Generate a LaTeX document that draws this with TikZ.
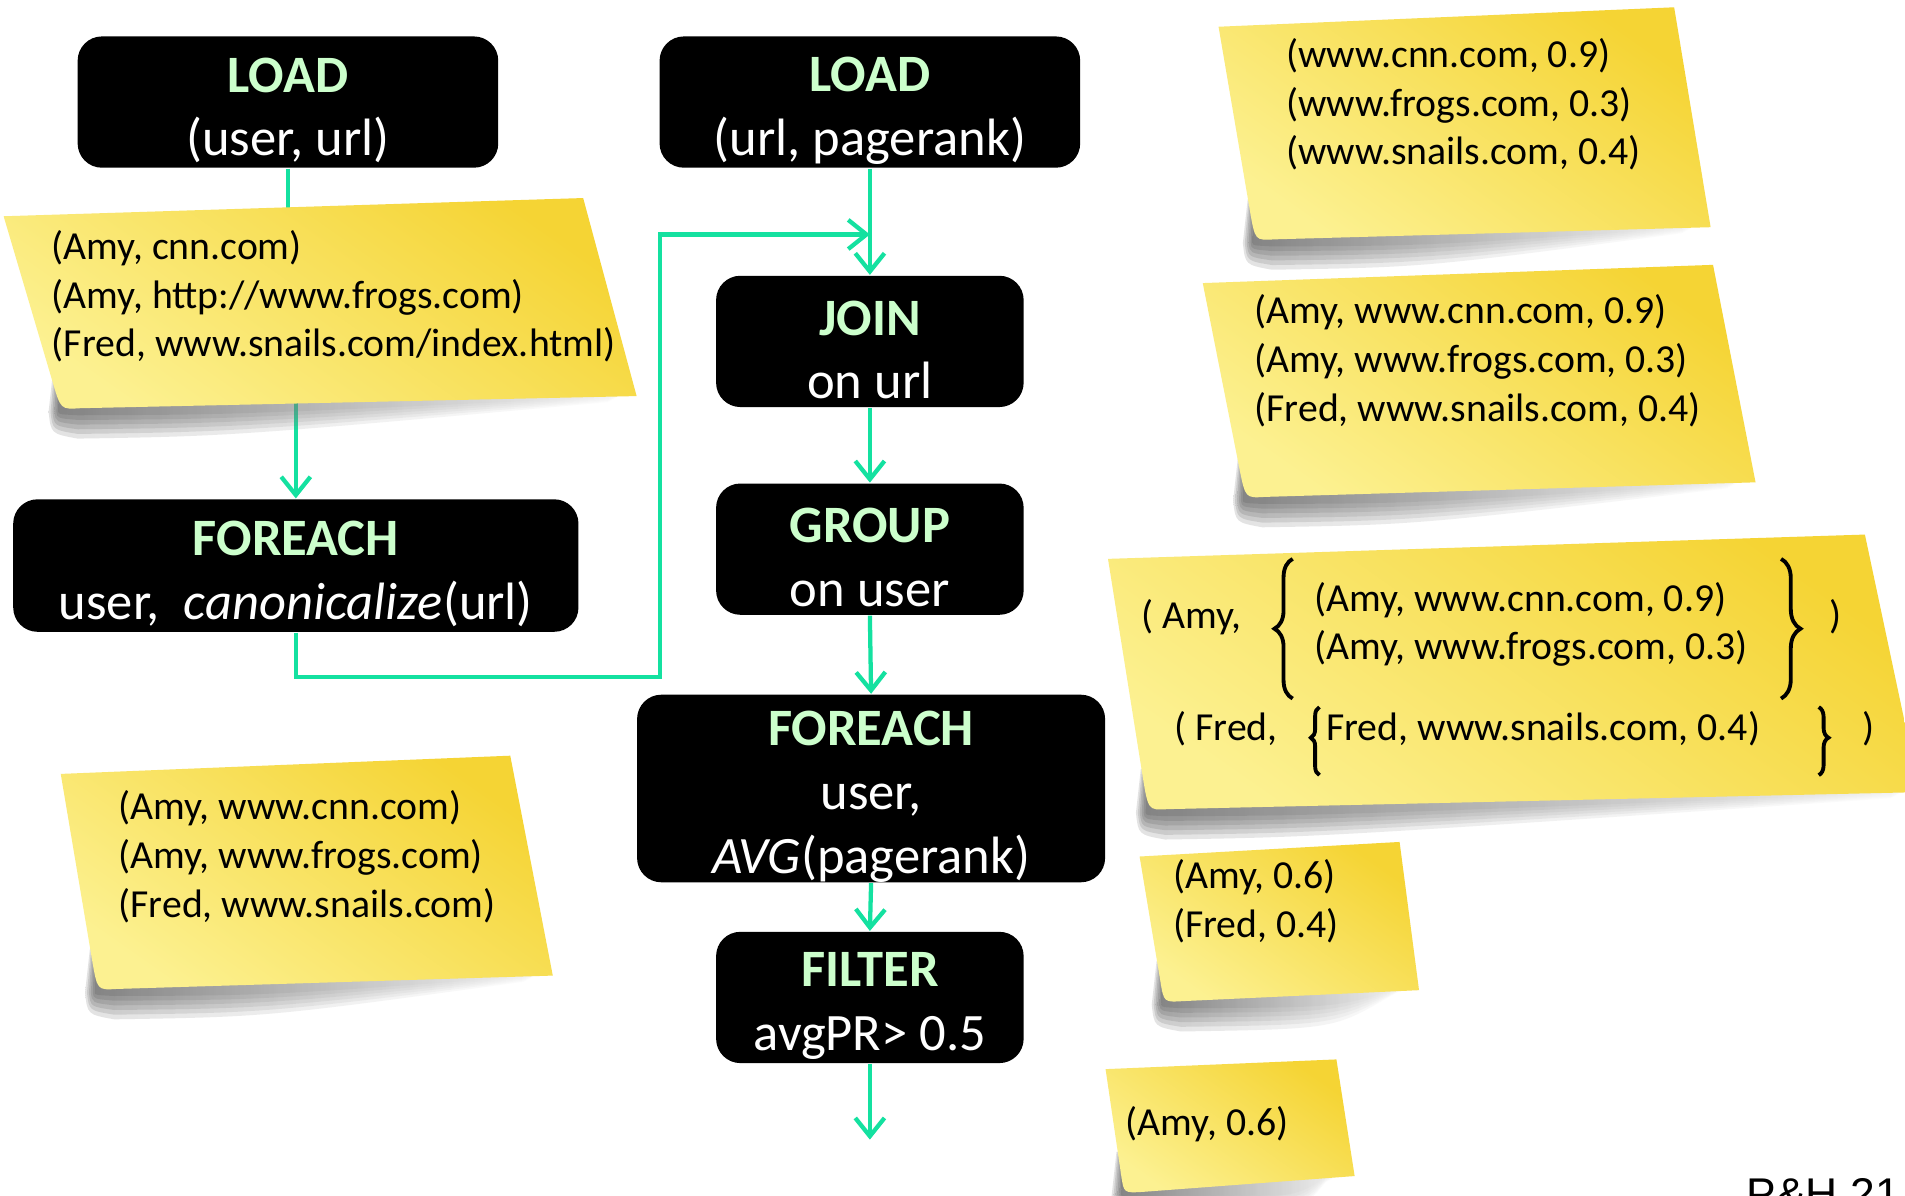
\documentclass[tikz,border=0pt]{standalone}
\usepackage{fontspec}
\setmainfont{Carlito}
\newfontfamily\footfont{Liberation Sans}
\usetikzlibrary{arrows.meta,decorations.pathreplacing,calc}

\definecolor{flow}{RGB}{20,225,160}
\definecolor{titlegreen}{RGB}{204,255,204}
\definecolor{notetop}{RGB}{245,212,52}
\definecolor{notelow}{RGB}{252,241,145}

% first line of an operator box: green bold title, with a strut that lowers the text block
\newcommand\boxtitle[1]{\rule{0pt}{12pt}{\color{titlegreen}\bfseries #1}}

% sticky note: corners top-left, top-right, bottom-right, bottom-left
\newcommand\stickynote[4]{%
  \foreach \k [evaluate=\k as \s using 1-0.16*\k] in {0,...,5}{%
    \shade[left color=black!85, right color=black!5, fill opacity=0.13]
      ($(#4)+(-6*\s,-34)$) -- ($(#3)+(-6,-5)$) -- ($(#3)+(-24,5*\s)$)
      .. controls ($(#4)+(140,22*\s)$) .. ($(#4)+(14,24*\s)$)
      .. controls ($(#4)+(-8*\s,20*\s)$) .. ($(#4)+(-10*\s,2)$) -- cycle;
  }%
  \shade[top color=notetop, bottom color=notelow, shading angle=-35]
    (#1) -- (#2) -- (#3) -- ($(#4)+(16,-1)$) .. controls (#4) .. ($(#4)!0.14!(#1)$) -- cycle;
}

\begin{document}
\begin{tikzpicture}[x=0.01cm,y=-0.01cm,
  opbox/.style={fill=black, rounded corners=0.2cm, text=white, align=center,
    inner sep=0pt, font=\fontsize{12.3}{14.9}\selectfont},
  flowline/.style={draw=flow, line width=1pt,
    -{Straight Barb[length=1.5mm,width=2.4mm,line width=1pt]}},
  notetext/.style={anchor=west, align=left, inner sep=0pt,
    font=\fontsize{9.3}{11.4}\selectfont},
  notebrace/.style={decorate, line width=0.9pt},
]
\useasboundingbox (0,0) rectangle (1568,984);
\clip (0,0) rectangle (1568,984);
\fill[white] (0,0) rectangle (1568,984);

% operator boxes
\node[opbox, minimum width=3.46cm, minimum height=1.08cm] (load1) at (237,84)
  {\boxtitle{LOAD}\\(user, url)};
\node[opbox, minimum width=3.46cm, minimum height=1.08cm] (load2) at (716,84)
  {\boxtitle{LOAD}\\(url, pagerank)};
\node[opbox, minimum width=2.53cm, minimum height=1.08cm] (join) at (716,281)
  {\boxtitle{JOIN}\\on url};
\node[opbox, minimum width=2.53cm, minimum height=1.08cm] (group) at (716,452)
  {\boxtitle{GROUP}\\on user};
\node[opbox, minimum width=3.85cm, minimum height=1.48cm] (fe2) at (717,649)
  {\boxtitle{FOREACH}\\user,\\\textit{AVG}(pagerank)};
\node[opbox, minimum width=2.53cm, minimum height=1.08cm] (filter) at (716,821)
  {\boxtitle{FILTER}\\avgPR> 0.5};
\node[opbox, minimum width=4.65cm, minimum height=1.09cm] (fe1) at (243.5,465.5)
  {\boxtitle{FOREACH}\\user,\ \ \textit{canonicalize}(url)};

% data flow
\coordinate (loopcorner) at (543,557);
\coordinate (merge) at (716,193);
\coordinate (out) at (716,938);
\draw[flowline] (load1.south) -- (load1.south |- 0,250) -| (fe1.north);
\draw[flowline] (fe1.south) |- (loopcorner) |- (merge);
\draw[flowline] (load2.south) -- (join.north);
\draw[flowline] (join.south) -- (group.north);
\draw[flowline] (group.south) -- (fe2.north);
\draw[flowline] (fe2.south) -- (filter.north);
\draw[flowline] (filter.south) -- (out);

% intermediate results
\stickynote{3,178}{480,163}{524,326}{50,337}
\node[notetext] (tA) at (42,244)
  {(Amy, cnn.com)\\(Amy, http://www.frogs.com)\\(Fred, www.snails.com/index.html)};

\stickynote{50,637}{420,622}{455,803}{80,815}
\node[notetext] (tB) at (97,705)
  {(Amy, www.cnn.com)\\(Amy, www.frogs.com)\\(Fred, www.snails.com)};

\stickynote{1003,22}{1378,6}{1408,187}{1033,198}
\node[notetext] (tC) at (1058,86)
  {(www.cnn.com, 0.9)\\(www.frogs.com, 0.3)\\(www.snails.com, 0.4)};

\stickynote{990,233}{1410,218}{1445,397}{1025,410}
\node[notetext] (tD) at (1032,297)
  {(Amy, www.cnn.com, 0.9)\\(Amy, www.frogs.com, 0.3)\\(Fred, www.snails.com, 0.4)};

\stickynote{912,460}{1535,440}{1580,652}{945,667}
\node[notetext] (eAmy) at (939,508) {( Amy,};
\node[notetext] (eAmyRows) at (1081,514)
  {(Amy, www.cnn.com, 0.9)\\(Amy, www.frogs.com, 0.3)};
\node[notetext] (eClose1) at (1505,508) {)};
\node[notetext] (eFred) at (966,600) {( Fred,};
\node[notetext] (eFredRow) at (1091,600) {Fred, www.snails.com, 0.4)};
\node[notetext] (eClose2) at (1532,600) {)};
\draw[notebrace, decoration={brace, amplitude=0.15cm}] (1064,575) -- (1064,460);
\draw[notebrace, decoration={brace, amplitude=0.16cm}] (1466,460) -- (1466,575);
\draw[notebrace, decoration={brace, amplitude=0.07cm, aspect=0.55}] (1086,638) -- (1086,582);
\draw[notebrace, decoration={brace, amplitude=0.08cm, aspect=0.45}] (1497,582) -- (1497,638);

\stickynote{938,705}{1152,693}{1168,815}{958,825}
\node[notetext] (tF) at (965,742) {(Amy, 0.6)\\(Fred, 0.4)};

\stickynote{910,880}{1100,872}{1115,968}{925,982}
\node[notetext] (tG) at (926,925) {(Amy, 0.6)};

% page reference
\node[anchor=north west, inner sep=0pt, font=\footfont\fontsize{10.4}{12}\selectfont] (pageref) at (1437,969) {P\&H 21};
\end{tikzpicture}
\end{document}
